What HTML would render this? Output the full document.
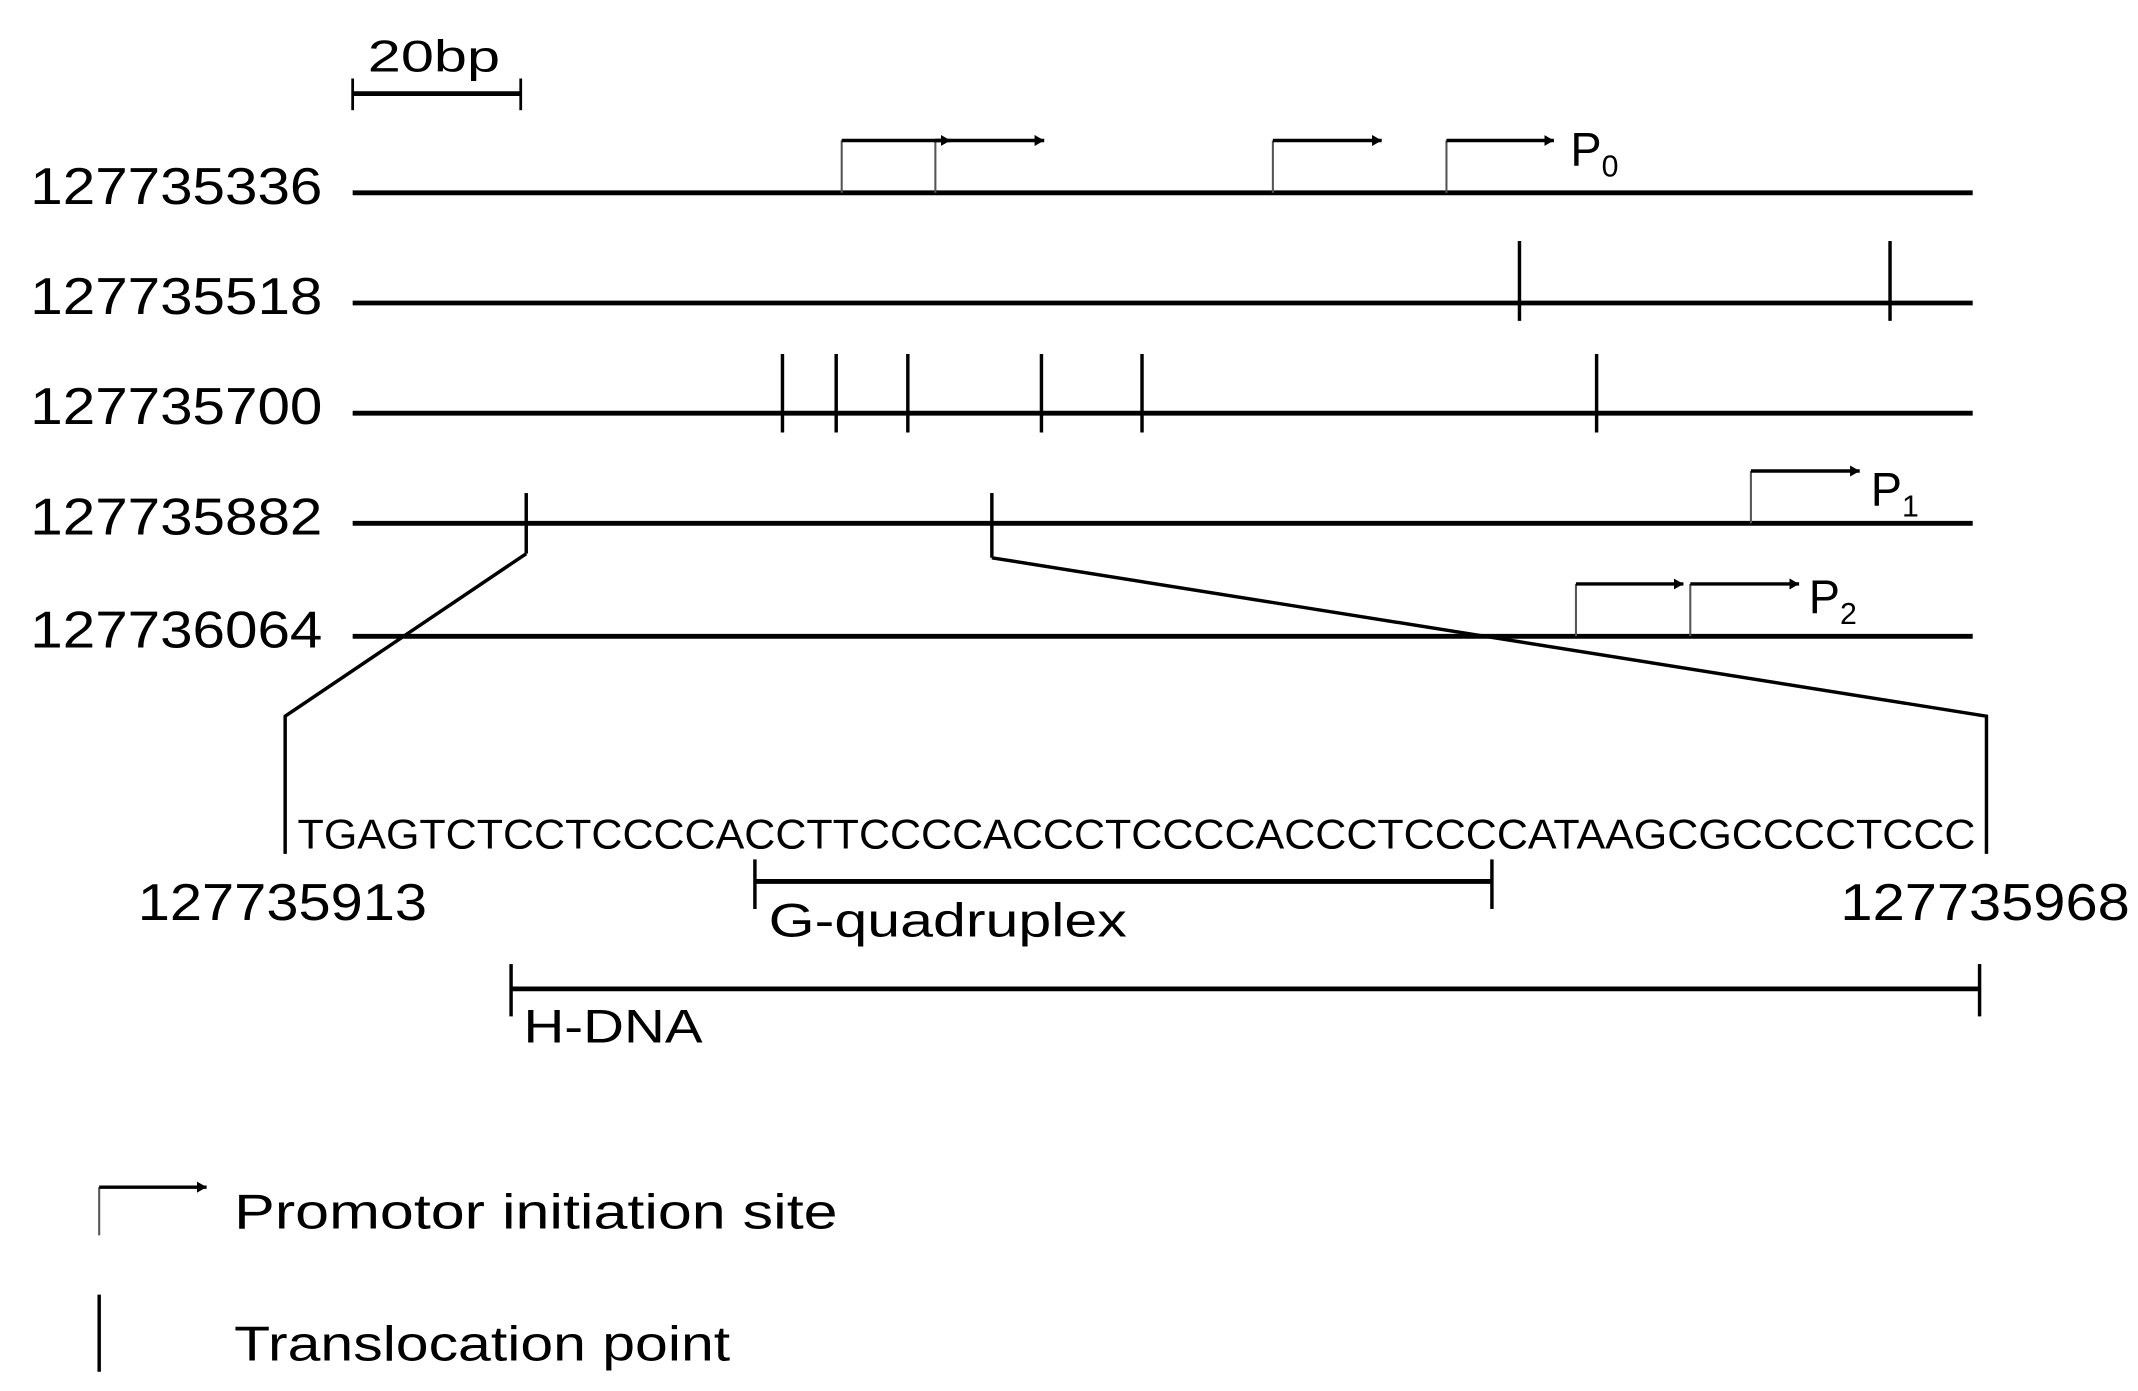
<!DOCTYPE html>
<html><head><meta charset="utf-8"><style>html,body{margin:0;padding:0;background:#fff}svg{display:block}</style></head>
<body>
<svg width="2138" height="1391" viewBox="0 0 1552 1010" preserveAspectRatio="none" xmlns="http://www.w3.org/2000/svg" font-family="Liberation Sans, sans-serif" fill="#000">
<defs><marker id="a" markerWidth="8" markerHeight="8" refX="7" refY="4" orient="auto" markerUnits="userSpaceOnUse"><path d="M0,0 L14,4 L0,8 Z" transform="scale(0.5,1)"/></marker></defs>
<g stroke="#000" stroke-width="3.5" fill="none">
<line x1="256" y1="68" x2="378" y2="68"/><line x1="256" y1="57" x2="256" y2="80" stroke-width="2"/><line x1="378" y1="57" x2="378" y2="80" stroke-width="2"/>
<line x1="256" y1="140" x2="1432" y2="140"/>
<line x1="256" y1="220" x2="1432" y2="220"/>
<line x1="256" y1="300" x2="1432" y2="300"/>
<line x1="256" y1="380" x2="1432" y2="380"/>
<line x1="256" y1="462" x2="1432" y2="462"/>
</g>
<g stroke="#000" stroke-width="2.5" fill="none">
<line x1="1103" y1="175" x2="1103" y2="233"/><line x1="1372" y1="175" x2="1372" y2="233"/>
<line x1="568" y1="257" x2="568" y2="314"/><line x1="607" y1="257" x2="607" y2="314"/><line x1="659" y1="257" x2="659" y2="314"/><line x1="756" y1="257" x2="756" y2="314"/><line x1="829" y1="257" x2="829" y2="314"/><line x1="1159" y1="257" x2="1159" y2="314"/>
<line x1="382" y1="358" x2="382" y2="402"/><line x1="720" y1="358" x2="720" y2="405"/>
<polyline points="382,402 207,520 207,620"/>
<polyline points="720,405 1442,520 1442,620"/>
<line x1="548" y1="640" x2="1083" y2="640" stroke-width="3.5"/><line x1="548" y1="624" x2="548" y2="660"/><line x1="1083" y1="624" x2="1083" y2="660"/>
<line x1="371" y1="718" x2="1437" y2="718" stroke-width="3.5"/><line x1="371" y1="700" x2="371" y2="738"/><line x1="1437" y1="700" x2="1437" y2="738"/>
<line x1="72" y1="940" x2="72" y2="996"/>
</g>
<g fill="none" stroke="#000">
<g stroke-width="1.5" stroke="#555">
<line x1="611" y1="140" x2="611" y2="102"/><line x1="679" y1="140" x2="679" y2="102"/><line x1="924" y1="140" x2="924" y2="102"/><line x1="1050" y1="140" x2="1050" y2="102"/>
<line x1="1271" y1="380" x2="1271" y2="342"/><line x1="1144" y1="462" x2="1144" y2="424"/><line x1="1227" y1="462" x2="1227" y2="424"/>
<line x1="72" y1="897" x2="72" y2="862"/>
</g>
<g stroke-width="2.5" marker-end="url(#a)">
<line x1="611" y1="102" x2="690" y2="102"/><line x1="679" y1="102" x2="758" y2="102"/><line x1="924" y1="102" x2="1003" y2="102"/><line x1="1050" y1="102" x2="1128" y2="102"/>
<line x1="1271" y1="342" x2="1350" y2="342"/><line x1="1144" y1="424" x2="1222" y2="424"/><line x1="1227" y1="424" x2="1306" y2="424"/>
<line x1="72" y1="862" x2="150" y2="862"/>
</g>
</g>
<g font-size="38">
<text x="22" y="148" textLength="212" lengthAdjust="spacingAndGlyphs">127735336</text>
<text x="22" y="228" textLength="212" lengthAdjust="spacingAndGlyphs">127735518</text>
<text x="22" y="308" textLength="212" lengthAdjust="spacingAndGlyphs">127735700</text>
<text x="22" y="388" textLength="212" lengthAdjust="spacingAndGlyphs">127735882</text>
<text x="22" y="470" textLength="212" lengthAdjust="spacingAndGlyphs">127736064</text>
<text x="100" y="668" textLength="210" lengthAdjust="spacingAndGlyphs">127735913</text>
<text x="1336" y="668" textLength="210" lengthAdjust="spacingAndGlyphs">127735968</text>
</g>
<text x="267" y="52" font-size="32" textLength="96" lengthAdjust="spacingAndGlyphs">20bp</text>
<text x="1140" y="120" font-size="34">P<tspan font-size="22" dy="8">0</tspan></text>
<text x="1358" y="367" font-size="34">P<tspan font-size="22" dy="8">1</tspan></text>
<text x="1313" y="445" font-size="34">P<tspan font-size="22" dy="8">2</tspan></text>
<text x="216" y="616" font-size="30" textLength="1218" lengthAdjust="spacingAndGlyphs">TGAGTCTCCTCCCCACCTTCCCCACCCTCCCCACCCTCCCCATAAGCGCCCCTCCC</text>
<text x="558" y="680" font-size="34" textLength="260" lengthAdjust="spacingAndGlyphs">G-quadruplex</text>
<text x="380" y="757" font-size="34" textLength="130" lengthAdjust="spacingAndGlyphs">H-DNA</text>
<text x="170" y="892" font-size="36" textLength="438" lengthAdjust="spacingAndGlyphs">Promotor initiation site</text>
<text x="170" y="988" font-size="36" textLength="360" lengthAdjust="spacingAndGlyphs">Translocation point</text>
</svg>
</body></html>
